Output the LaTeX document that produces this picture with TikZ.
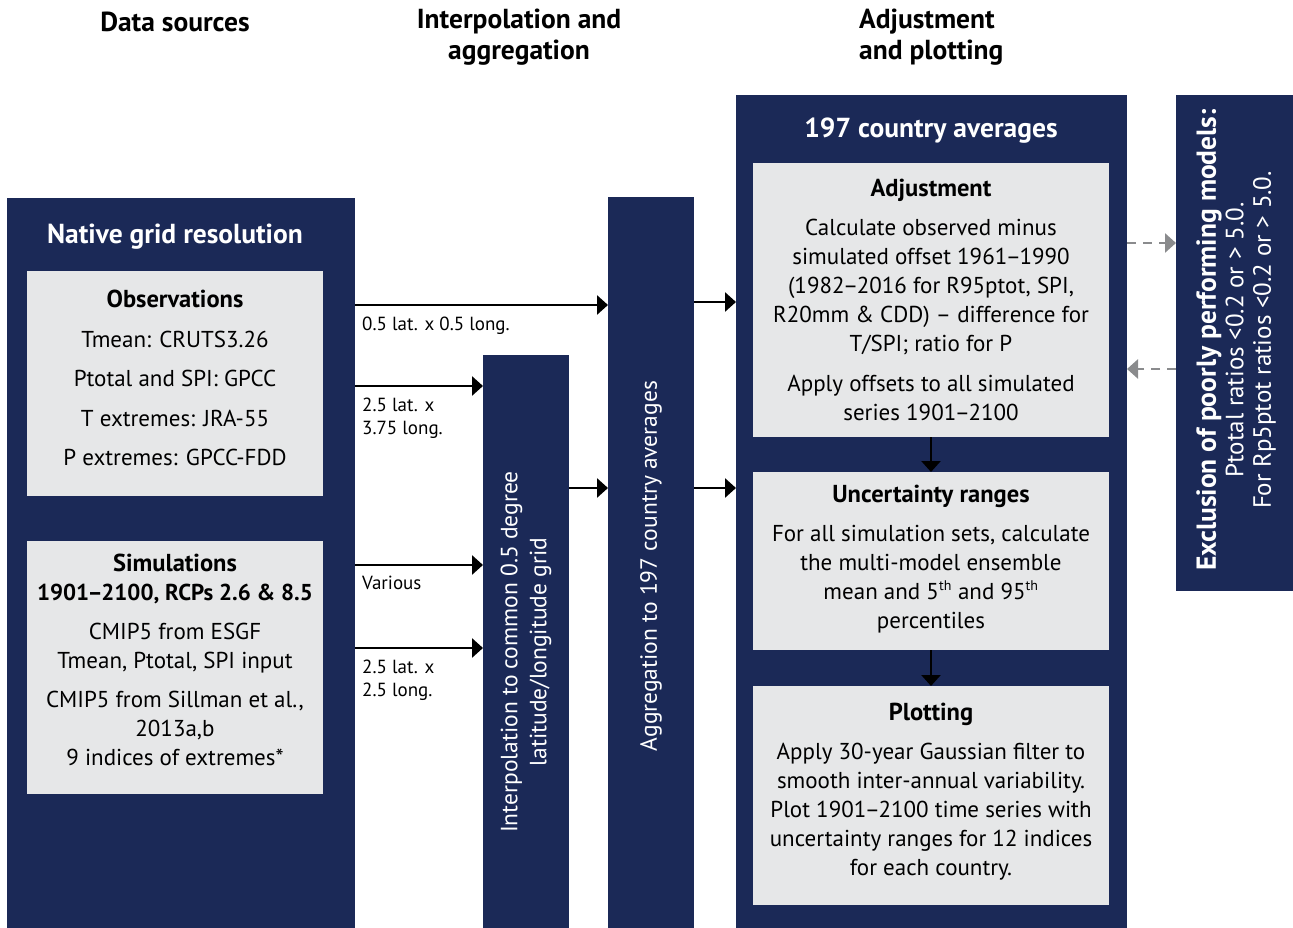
\documentclass[tikz,border=0pt]{standalone}
\usepackage{fontspec}
\setmainfont{PT Sans}
\usetikzlibrary{arrows.meta}
\definecolor{navy}{HTML}{1B2957}
\definecolor{pale}{HTML}{E6E7E8}
\definecolor{dgray}{HTML}{8A8B8D}
\newcommand\nd{\kern-1.5pt–\kern-1.5pt}
\newcommand\ttl[1]{{\fontsize{24.5}{29}\selectfont\bfseries #1}}
\begin{document}
\begin{tikzpicture}[x=1pt,y=-1pt,
  panel/.style={fill=navy, draw=none, anchor=north west, inner sep=0pt, outer sep=0pt},
  card/.style={fill=pale, draw=none, anchor=north west, inner sep=0pt, outer sep=0pt},
  head/.style={font=\fontsize{27.5}{31}\selectfont\bfseries, align=center, text=black, inner sep=0pt},
  whitehead/.style={font=\fontsize{27.5}{31}\selectfont\bfseries, text=white, inner sep=0pt},
  body/.style={align=center, text=black, inner sep=0pt},
  lbl/.style={font=\fontsize{19}{23}\selectfont, align=left, anchor=north west, inner sep=0pt},
  vtext/.style={rotate=90, text=white, align=center, inner sep=0pt, font=\fontsize{23.5}{29}\selectfont},
  arr/.style={line width=2.8pt, -{Triangle[length=11pt,width=19pt]}},
  darr/.style={line width=2.8pt, dgray, dash pattern=on 9pt off 7pt, -{Triangle[length=11pt,width=19pt]}}
]
\useasboundingbox (0,0) rectangle (1293,928);

% headers
\node[head] (h1) at (175,22) {Data sources};
\node[head] (h2) at (519,37) {Interpolation and\\aggregation};
\node[head, align=left, anchor=west] (h3) at (859,37) {Adjustment\\and plotting};

% panels
\node[panel, minimum width=348pt, minimum height=730pt] (native) at (7,198) {};
\node[panel, minimum width=86pt, minimum height=573pt] (interp) at (483,355) {};
\node[panel, minimum width=86pt, minimum height=731pt] (agg) at (608,197) {};
\node[panel, minimum width=391pt, minimum height=833pt] (country) at (736,95) {};
\node[panel, minimum width=117pt, minimum height=496pt] (excl) at (1176,95) {};

% cards
\node[card, minimum width=296pt, minimum height=225pt] (obs) at (27,271) {};
\node[card, minimum width=296pt, minimum height=253pt] (sim) at (27,541) {};
\node[card, minimum width=356pt, minimum height=274pt] (adj) at (753,163) {};
\node[card, minimum width=356pt, minimum height=178pt] (unc) at (753,472) {};
\node[card, minimum width=356pt, minimum height=219pt] (plot) at (753,686) {};

% titles
\node[whitehead] (tnative) at (175,237) {Native grid resolution};
\node[whitehead] (tcountry) at (931,131) {197 country averages};

% card texts
\node[body, font=\fontsize{23}{39.5}\selectfont] (obstext) at (175,378)
  {\ttl{Observations}\\Tmean: CRUTS3.26\\Ptotal and SPI: GPCC\\T extremes: JRA-55\\P extremes: GPCC-FDD};
\node[body, font=\fontsize{23}{29}\selectfont] (simtext) at (175,660)
  {\ttl{Simulations}\\\textbf{1901\nd2100, RCPs 2.6 \& 8.5}\\[10pt]CMIP5 from ESGF\\Tmean, Ptotal, SPI input\\[10pt]CMIP5 from Sillman et al.,\\2013a,b\\9 indices of extremes*};
\node[body, font=\fontsize{23}{29}\selectfont] (adjtext) at (931,299.5)
  {\ttl{Adjustment}\\[10pt]Calculate observed minus\\simulated offset 1961\nd1990\\(1982\nd2016 for R95ptot, SPI,\\R20mm \& CDD) – difference for\\T/SPI; ratio for P\\[11pt]Apply offsets to all simulated\\series 1901\nd2100};
\node[body, font=\fontsize{23}{29}\selectfont] (unctext) at (931,559)
  {\ttl{Uncertainty ranges}\\[10pt]For all simulation sets, calculate\\the multi-model ensemble\\mean and 5\textsuperscript{\fontsize{14}{14}\selectfont th} and 95\textsuperscript{\fontsize{14}{14}\selectfont th}\\percentiles};
\node[body, font=\fontsize{23}{29}\selectfont] (plottext) at (931,791.5)
  {\ttl{Plotting}\\[10pt]Apply 30-year Gaussian filter to\\smooth inter-annual variability.\\Plot 1901\nd2100 time series with\\uncertainty ranges for 12 indices\\for each country.};

% vertical texts
\node[vtext] (interptext) at (526,652) {Interpolation to common 0.5 degree\\latitude/longitude grid};
\node[vtext] (aggtext) at (651,566) {Aggregation to 197 country averages};
\node[vtext, font=\fontsize{25}{27.5}\selectfont] (excltext) at (1236,340)
  {{\fontsize{27.5}{27.5}\selectfont\bfseries Exclusion of poorly performing models:}\\Ptotal ratios <0.2 or > 5.0.\\For Rp5ptot ratios <0.2 or > 5.0.};

% levels
\coordinate (ya) at (0,305);
\coordinate (yb) at (0,386);
\coordinate (yc) at (0,565);
\coordinate (yd) at (0,648);
\coordinate (ye) at (0,488);
\coordinate (yf) at (0,302);
\coordinate (yg) at (0,243);
\coordinate (yh) at (0,369);

% arrows
\draw[arr] (native.east |- ya) -- (agg.west |- ya);
\draw[arr] (native.east |- yb) -- (interp.west |- yb);
\draw[arr] (native.east |- yc) -- (interp.west |- yc);
\draw[arr] (native.east |- yd) -- (interp.west |- yd);
\draw[arr] (interp.east |- ye) -- (agg.west |- ye);
\draw[arr] (agg.east |- yf) -- (country.west |- yf);
\draw[arr] (agg.east |- ye) -- (country.west |- ye);
\draw[arr] (adj.south) -- (unc.north);
\draw[arr] (unc.south) -- (plot.north);
\draw[darr] (country.east |- yg) -- (excl.west |- yg);
\draw[darr] (excl.west |- yh) -- (country.east |- yh);

% arrow labels
\node[lbl] (l1) at (362,317) {0.5 lat. x 0.5 long.};
\node[lbl] (l2) at (362,398) {2.5 lat. x\\3.75 long.};
\node[lbl] (l3) at (362,576) {Various};
\node[lbl] (l4) at (362,660) {2.5 lat. x\\2.5 long.};
\end{tikzpicture}
\end{document}
